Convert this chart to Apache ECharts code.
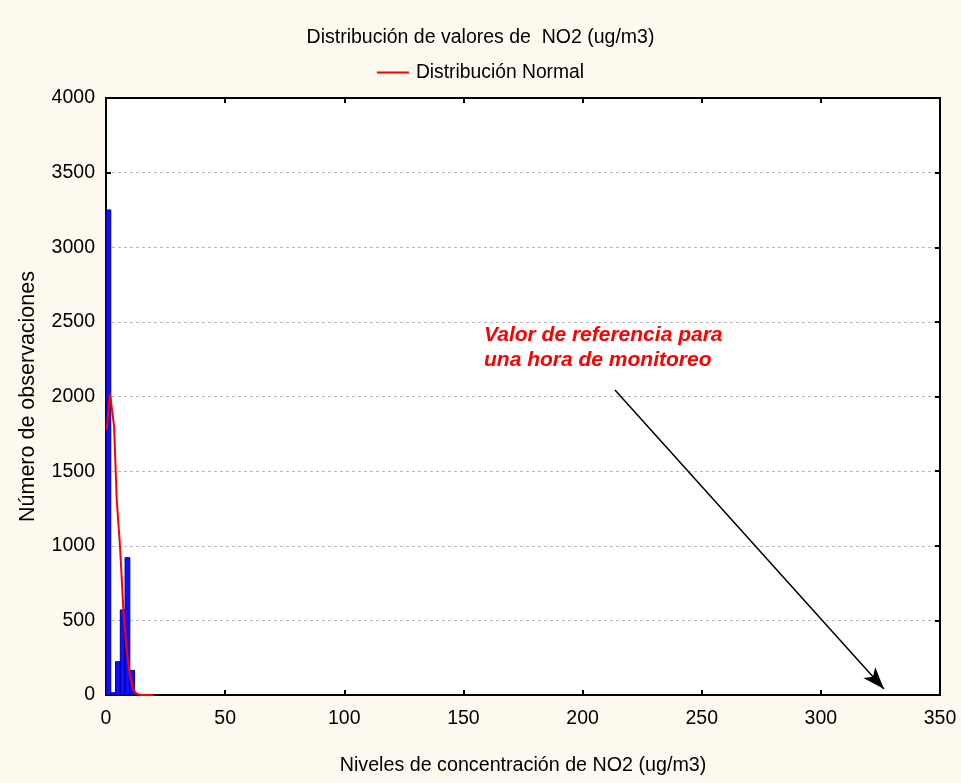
<!DOCTYPE html>
<html>
<head>
<meta charset="utf-8">
<script src="https://cdn.jsdelivr.net/npm/echarts@6/dist/echarts.min.js"></script>
<style>
html,body{margin:0;padding:0;background:#fdf9ee;}
#chart{width:961px;height:783px;}
</style>
</head>
<body>
<div id="chart"></div>
<script>
// Histogram bins (ug/m3) and counts
var binStarts = [0, 2, 4, 6, 8, 10];
var binEnds   = [2, 4, 6, 8, 10, 12];
var binCounts = [3250, 15, 223, 570, 920, 165];

// Fitted normal distribution curve
var normalX = [0.3, 1.7, 3.4, 4.5, 5.9, 7.3, 8.7, 10.1, 11.5, 12.9, 14.5, 20];
var normalY = [1780, 2020, 1800, 1310, 990, 570, 300, 125, 35, 8, 0, 0];

// Axis ticks
var xTicks = [0, 50, 100, 150, 200, 250, 300, 350];
var yTicks = [0, 500, 1000, 1500, 2000, 2500, 3000, 3500, 4000];

// Reference arrow (data coordinates)
var arrowStart = [213.6, 2044];
var arrowEnd = [326.5, 40];

var titleText = 'Distribución de valores de  NO2 (ug/m3)';
var legendText = 'Distribución Normal';
var xName = 'Niveles de concentración de NO2 (ug/m3)';
var yName = 'Número de observaciones';
var noteText = 'Valor de referencia para\nuna hora de monitoreo';

var histData = binStarts.map(function (s, i) { return [s, binEnds[i], binCounts[i]]; });
var normalData = normalX.map(function (x, i) { return [x, normalY[i]]; });

var FONT = 'Liberation Sans, Arial, sans-serif';
var chart = echarts.init(document.getElementById('chart'));

var xMin = xTicks[0], xMax = xTicks[xTicks.length - 1];
var yMin = yTicks[0], yMax = yTicks[yTicks.length - 1];
function plain(v) { return String(v); }

function tickStyle() { return { show: true, inside: true, length: 5, lineStyle: { color: '#000', width: 2 } }; }
function lineStyle() { return { show: true, onZero: false, lineStyle: { color: '#000', width: 2 } }; }

chart.setOption({
  backgroundColor: '#fdf9ee',
  animation: false,
  title: {
    text: titleText, left: 'center', top: 23,
    textStyle: { fontFamily: FONT, fontSize: 19.5, fontWeight: 'normal', color: '#000' }
  },
  legend: {
    data: [{ name: legendText, icon: 'path://M0,0 L32,0 L32,2 L0,2 Z' }],
    top: 58, left: 'center',
    itemWidth: 32, itemHeight: 2, itemGap: 10,
    textStyle: { fontFamily: FONT, fontSize: 19.3, color: '#000', padding: [0, 0, 0, 2] }
  },
  grid: {
    left: 106, right: 21, top: 98, bottom: 88,
    show: true, backgroundColor: '#ffffff', borderColor: '#000', borderWidth: 2
  },
  xAxis: [{
    type: 'value', min: xMin, max: xMax, interval: 50,
    name: xName, nameLocation: 'middle', nameGap: 61,
    nameTextStyle: { fontFamily: FONT, fontSize: 19.7, color: '#000' },
    axisLine: lineStyle(),
    axisTick: tickStyle(),
    axisLabel: { fontFamily: FONT, fontSize: 19.5, color: '#000', margin: 14, formatter: plain },
    splitLine: { show: false }
  }, {
    type: 'value', min: xMin, max: xMax, interval: 50, position: 'top',
    axisLine: lineStyle(),
    axisTick: tickStyle(),
    axisLabel: { show: false }, splitLine: { show: false }
  }],
  yAxis: [{
    type: 'value', min: yMin, max: yMax, interval: 500,
    name: yName, nameLocation: 'middle', nameGap: 67,
    nameTextStyle: { fontFamily: FONT, fontSize: 21.5, color: '#000' },
    axisLine: lineStyle(),
    axisTick: tickStyle(),
    axisLabel: { fontFamily: FONT, fontSize: 19.5, color: '#000', margin: 11, formatter: plain },
    splitLine: { show: true, showMinLine: false, showMaxLine: false, lineStyle: { color: '#b8b8b8', type: [3, 3], width: 1 } }
  }, {
    type: 'value', min: yMin, max: yMax, interval: 500, position: 'right',
    axisLine: lineStyle(),
    axisTick: tickStyle(),
    axisLabel: { show: false }, splitLine: { show: false }
  }],
  series: [{
    type: 'custom',
    name: 'hist',
    xAxisIndex: 0, yAxisIndex: 0,
    data: histData,
    encode: { x: [0, 1], y: 2 },
    renderItem: function (params, api) {
      var p0 = api.coord([api.value(0), 0]);
      var p1 = api.coord([api.value(1), api.value(2)]);
      return {
        type: 'rect',
        shape: { x: p0[0], y: p1[1], width: p1[0] - p0[0], height: p0[1] - p1[1] },
        style: { fill: '#1010ff', stroke: '#00008b', lineWidth: 1 }
      };
    },
    z: 2
  }, {
    type: 'line',
    name: legendText,
    xAxisIndex: 0, yAxisIndex: 0,
    data: normalData,
    symbol: 'none',
    lineStyle: { color: '#ff0000', width: 2 },
    itemStyle: { color: '#ff0000' },
    z: 3,
    markLine: {
      silent: true,
      symbol: ['none', 'arrow'],
      symbolSize: [12, 22],
      label: { show: false },
      lineStyle: { color: '#000', width: 1.5, type: 'solid' },
      data: [[{ coord: arrowStart }, { coord: arrowEnd }]]
    }
  }],
  graphic: [{
    type: 'text', left: 484, top: 323,
    style: {
      text: noteText, fill: '#ff0000',
      font: 'italic bold 21px Liberation Sans, Arial, sans-serif',
      lineHeight: 25
    },
    z: 10
  }]
});
</script>
</body>
</html>
